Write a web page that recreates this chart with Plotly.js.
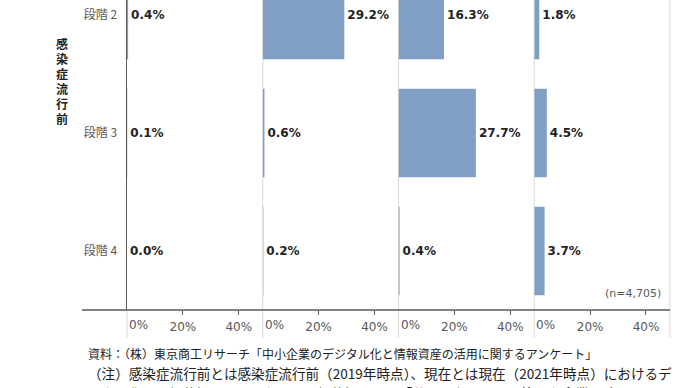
<!DOCTYPE html>
<html>
<head>
<meta charset="utf-8">
<script src="https://cdn.plot.ly/plotly-3.0.1.min.js"></script>
<style>html,body{margin:0;padding:0;background:#fff;overflow:hidden}#chart{width:690px;height:388px}</style>
</head>
<body>
<div id="chart"></div>
<script>
// ---- data ----
const stages = ['段階 2', '段階 3', '段階 4'];
const current1 = [0.4, 0.1, 0.0];
const current2 = [29.2, 0.6, 0.2];
const current3 = [16.3, 27.7, 0.4];
const current4 = [1.8, 4.5, 3.7];
const tickVals = [20, 40];
const tickText = ['20%', '40%'];
const zeroLabel = '0%';
const groupLabel = '感染症流行前';
const nLabel = '(n=4,705)';
const sourceLines = [
  '資料：（株）東京商工リサーチ「中小企業のデジタル化と情報資産の活用に関するアンケート」',
  '（注）感染症流行前とは感染症流行前（2019年時点）、現在とは現在（2021年時点）におけるデ',
  'ジタル化の取組状況を示しており、取組状況として「分からない」と回答した企業は除いている。'
];

const BAR = '#7f9fc4';
const GRAY = '#595959';
const LIGHT = '#d9d9d9';
const TXT = '#222222';
const CJK = '"Noto Sans CJK JP", "Noto Sans", sans-serif';
const LAT = '"DejaVu Sans", Verdana, sans-serif';

const series = [current1, current2, current3, current4];
const axisIds = ['x', 'x2', 'x3', 'x4'];

const traces = series.map((vals, i) => ({
  type: 'bar',
  orientation: 'h',
  x: vals,
  y: stages,
  xaxis: axisIds[i],
  yaxis: 'y',
  width: 0.75,
  marker: {color: BAR, line: {width: 0}},
  texttemplate: '%{x:.1f}%',
  textposition: 'outside',
  constraintext: 'none',
  cliponaxis: false,
  outsidetextfont: {family: LAT, size: 12, color: TXT, weight: 'bold'},
  hoverinfo: 'skip',
  showlegend: false
}));

const layout = {
  width: 690,
  height: 388,
  margin: {l: 127, r: 20, t: 0, b: 78},
  paper_bgcolor: '#ffffff',
  plot_bgcolor: 'rgba(0,0,0,0)',
  bargap: 0.25,
  showlegend: false,
  yaxis: {
    type: 'category',
    categoryorder: 'array',
    categoryarray: stages,
    range: [2.5, -0.127],
    anchor: 'x',
    showline: true,
    linecolor: GRAY,
    linewidth: 1.5,
    showgrid: false,
    zeroline: false,
    ticks: '',
    ticklabelstandoff: 6,
    tickfont: {family: CJK, size: 12, color: GRAY},
    fixedrange: true
  },
  shapes: [],
  annotations: []
};

const domains = [[0, 0.25], [0.25, 0.5], [0.5, 0.75], [0.75, 1]];
domains.forEach((d, i) => {
  const key = i === 0 ? 'xaxis' : 'xaxis' + (i + 1);
  layout[key] = {
    domain: d,
    range: [0, 48.6],
    anchor: 'y',
    showline: false,
    showgrid: false,
    zeroline: false,
    tickmode: 'array',
    tickvals: tickVals,
    ticktext: tickText,
    ticks: 'outside',
    ticklen: 4,
    tickwidth: 1,
    tickcolor: GRAY,
    ticklabelstandoff: 2,
    tickfont: {family: LAT, size: 12, color: GRAY},
    fixedrange: true
  };
  layout.annotations.push({
    xref: axisIds[i], yref: 'paper', x: 0, y: 0,
    xanchor: 'left', yanchor: 'middle', xshift: 0, yshift: -15,
    text: zeroLabel, showarrow: false,
    font: {family: LAT, size: 12, color: GRAY}
  });
});

// panel separators (light gray) and extension below axis
[0.25, 0.5, 0.75, 1].forEach(x => {
  layout.shapes.push({type: 'line', xref: 'paper', yref: 'paper', x0: x, x1: x, y0: -0.09, y1: 1,
    line: {color: LIGHT, width: 1}, layer: 'below'});
});
layout.shapes.push({type: 'line', xref: 'paper', yref: 'paper', x0: 0, x1: 0, y0: -0.09, y1: 0,
  line: {color: LIGHT, width: 1}});
// bottom axis line extending under row labels
layout.shapes.push({type: 'line', xref: 'paper', yref: 'paper', x0: -45 / 543, x1: 1, y0: 0, y1: 0,
  line: {color: GRAY, width: 1.3}});

// vertical group label, one character per annotation
groupLabel.split('').forEach((ch, k) => {
  layout.annotations.push({
    xref: 'paper', yref: 'paper', x: 0, y: 1, xshift: -65, yshift: -(43 + 15 * k),
    xanchor: 'center', yanchor: 'middle',
    text: '<b>' + ch + '</b>',
    showarrow: false, borderpad: 0,
    font: {family: CJK, size: 12, color: TXT}
  });
});

// n label
layout.annotations.push({
  xref: 'paper', yref: 'paper', x: 1, y: 0, xshift: -7, yshift: 17,
  xanchor: 'right', yanchor: 'middle',
  text: nLabel, showarrow: false,
  font: {family: LAT, size: 11, color: GRAY}
});

// source notes
const srcSizes = [12, 13.6, 13.6];
const srcY = [43, 63, 83];
sourceLines.forEach((t, i) => {
  layout.annotations.push({
    xref: 'paper', yref: 'paper', x: 0, y: 0, xshift: -41, yshift: -srcY[i],
    xanchor: 'left', yanchor: 'middle',
    text: t, showarrow: false,
    font: {family: CJK, size: srcSizes[i], color: TXT}
  });
});

Plotly.newPlot('chart', traces, layout, {staticPlot: true, displayModeBar: false});
</script>
</body>
</html>
